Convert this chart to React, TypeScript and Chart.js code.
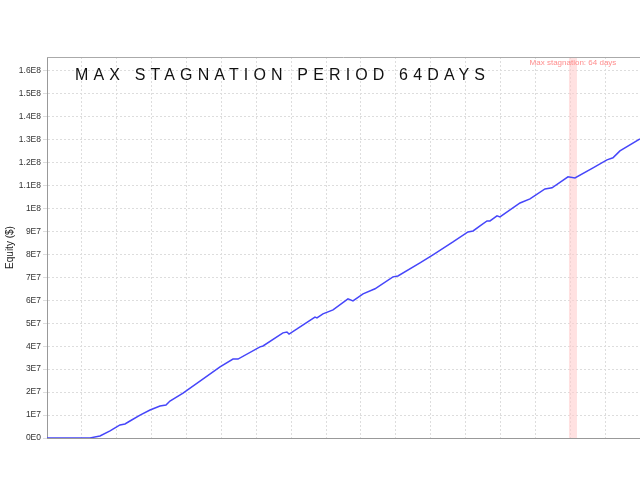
import React, { useEffect, useRef } from "react";
import { Chart, registerables } from "chart.js";

Chart.register(...registerables);

// Day index since start of the backtest
const days = [
  0, 345, 425, 506, 546, 586, 626, 666, 747, 827,
  907, 955, 987, 1092, 1228, 1389, 1493, 1533, 1710, 1734,
  1894, 1926, 1943, 2007, 2151, 2167, 2215, 2296, 2416, 2456,
  2537, 2633, 2777, 2817, 2994, 3098, 3259, 3379, 3420, 3476,
  3532, 3556, 3612, 3636, 3797, 3877, 3997, 4054, 4182, 4238,
  4383, 4495, 4543, 4575, 4599, 4760,
];

// Equity in dollars
const equity = [
  0, 0, 0.9e6, 3.1e6, 4.4e6, 5.7e6, 6.1e6, 7.4e6, 10.0e6, 12.2e6,
  13.9e6, 14.4e6, 16.1e6, 19.6e6, 24.8e6, 31.0e6, 34.4e6, 34.4e6, 39.7e6, 40.1e6,
  45.8e6, 46.2e6, 45.3e6, 47.5e6, 52.7e6, 52.3e6, 54.1e6, 55.8e6, 60.6e6, 59.7e6,
  62.8e6, 65.0e6, 70.2e6, 70.6e6, 76.3e6, 79.8e6, 85.4e6, 89.8e6, 90.2e6, 92.4e6,
  94.6e6, 94.6e6, 96.8e6, 96.3e6, 102.4e6, 104.2e6, 108.5e6, 109.0e6, 113.8e6, 113.3e6,
  117.7e6, 121.2e6, 122.1e6, 123.8e6, 125.1e6, 130.3e6,
];

const yTickValues = [
  0, 1e7, 2e7, 3e7, 4e7, 5e7, 6e7, 7e7, 8e7, 9e7,
  1e8, 1.1e8, 1.2e8, 1.3e8, 1.4e8, 1.5e8, 1.6e8,
];
const xGridDays = [
  0, 280, 560, 840, 1120, 1400, 1680, 1960, 2240, 2520,
  2800, 3080, 3360, 3640, 3920, 4200, 4480, 4760,
];
const yMax = 1.66e8;
const xMax = 4760;
const stagnationStart = 4190;
const stagnationDays = 64;
const chartTitle = "MAX STAGNATION PERIOD 64DAYS";
const stagnationLabel = "Max stagnation: 64 days";
const yAxisTitle = "Equity ($)";

function formatTick(v: number): string {
  if (v === 0) return "0E0";
  const e = Math.floor(Math.log10(v) + 1e-9);
  const m = v / Math.pow(10, e);
  return `${parseFloat(m.toFixed(2))}E${e}`;
}

const overlayPlugin = {
  id: "overlay",
  beforeDatasetsDraw(chart: any) {
    const { ctx, chartArea: a, scales } = chart;
    const x0 = scales.x.getPixelForValue(stagnationStart);
    const x1 = scales.x.getPixelForValue(stagnationStart + stagnationDays);
    ctx.save();
    ctx.fillStyle = "rgba(255, 205, 205, 0.6)";
    ctx.fillRect(x0, a.top, x1 - x0, a.bottom - a.top);
    ctx.restore();
  },
  afterDraw(chart: any) {
    const { ctx, chartArea: a, scales } = chart;
    ctx.save();
    // top border
    ctx.strokeStyle = "#aaaaaa";
    ctx.lineWidth = 1;
    ctx.beginPath();
    ctx.moveTo(a.left, a.top + 0.5);
    ctx.lineTo(a.right, a.top + 0.5);
    ctx.stroke();

    // stagnation label
    const xc = scales.x.getPixelForValue(stagnationStart + stagnationDays / 2);
    ctx.fillStyle = "rgba(255, 120, 120, 0.85)";
    ctx.font = '8px "Liberation Sans", Arial, sans-serif';
    ctx.textAlign = "center";
    ctx.textBaseline = "middle";
    ctx.fillText(stagnationLabel, xc, a.top + 6);

    // big title
    ctx.fillStyle = "#111111";
    ctx.font = '16px "Liberation Sans", Arial, sans-serif';
    ctx.textAlign = "left";
    ctx.textBaseline = "alphabetic";
    (ctx as any).letterSpacing = "0px";
    const w0 = ctx.measureText(chartTitle).width;
    const spacing = (410 - w0) / (chartTitle.length - 1);
    (ctx as any).letterSpacing = `${spacing}px`;
    ctx.fillText(chartTitle, 75, 80);
    ctx.restore();
  },
};

export default function App() {
  const ref = useRef<HTMLCanvasElement | null>(null);

  useEffect(() => {
    if (!ref.current) return;
    const chart = new Chart(ref.current, {
      type: "line",
      data: {
        datasets: [
          {
            data: days.map((d, i) => ({ x: d, y: equity[i] })),
            borderColor: "rgb(70, 70, 250)",
            borderWidth: 1.5,
            pointRadius: 0,
            tension: 0,
            fill: false,
          },
        ],
      },
      options: {
        animation: false,
        responsive: false,
        devicePixelRatio: 1,
        layout: { padding: { top: 57, bottom: 42, left: 0, right: 0 } },
        plugins: {
          legend: { display: false },
          tooltip: { enabled: false },
          title: { display: false },
        },
        scales: {
          x: {
            type: "linear",
            min: 0,
            max: xMax,
            afterBuildTicks: (s: any) => {
              s.ticks = xGridDays.map((v) => ({ value: v }));
            },
            afterFit: (s: any) => {
              s.height = 0;
            },
            ticks: { display: false },
            grid: { color: "#dddddd", drawTicks: false, tickLength: 0 },
            border: { display: true, color: "#999999", dash: [2, 2] },
          },
          y: {
            type: "linear",
            min: 0,
            max: yMax,
            afterBuildTicks: (s: any) => {
              s.ticks = yTickValues.map((v) => ({ value: v }));
            },
            afterFit: (s: any) => {
              s.width = 47;
            },
            ticks: {
              callback: (v: any) => formatTick(Number(v)),
              font: { family: '"Liberation Sans", Arial, sans-serif', size: 8.5 },
              color: "#333333",
              padding: 2,
            },
            grid: { color: "#dddddd", tickLength: 4 },
            border: { display: true, color: "#999999", dash: [2, 2] },
            title: {
              display: true,
              text: yAxisTitle,
              font: { family: '"Liberation Sans", Arial, sans-serif', size: 10 },
              color: "#222222",
              padding: { top: 4, bottom: 0 },
            },
          },
        },
      },
      plugins: [overlayPlugin],
    });
    return () => chart.destroy();
  }, []);

  return (
    <div style={{ position: "fixed", left: 0, top: 0, width: 640, height: 480, background: "#fff" }}>
      <canvas ref={ref} width={640} height={480} />
    </div>
  );
}
